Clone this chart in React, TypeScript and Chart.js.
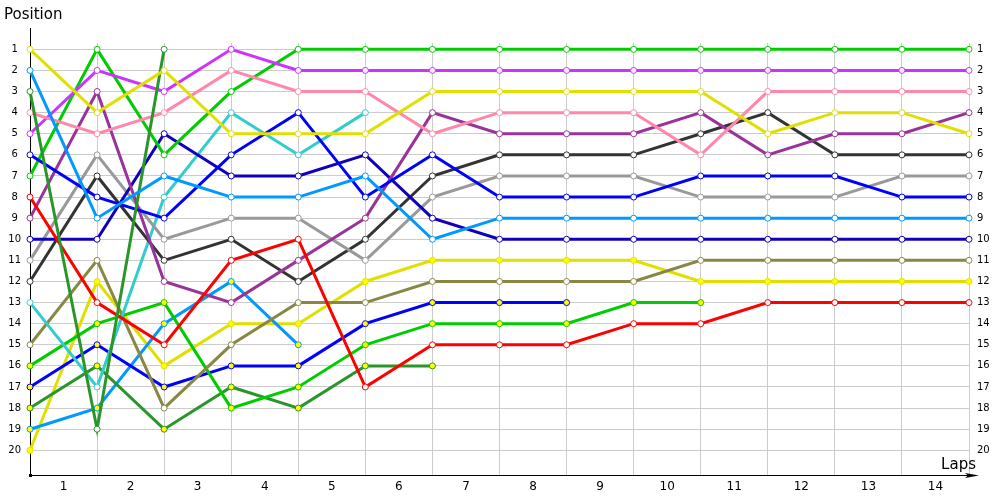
import React, { useEffect, useRef } from "react";
import { Chart, registerables } from "chart.js";
Chart.register(...registerables);

const laps = [0, 1, 2, 3, 4, 5, 6, 7, 8, 9, 10, 11, 12, 13, 14];
const lapLabels = ["1", "2", "3", "4", "5", "6", "7", "8", "9", "10", "11", "12", "13", "14"];
const positionTicks = [1, 2, 3, 4, 5, 6, 7, 8, 9, 10, 11, 12, 13, 14, 15, 16, 17, 18, 19, 20];

const p01 = [1, 4, 2, 5, 5, 5, 3, 3, 3, 3, 3, 5, 4, 4, 5];
const p02 = [2, 9, 7, 8, 8, 7, 10, 9, 9, 9, 9, 9, 9, 9, 9];
const p03 = [3, 19, 1];
const p04 = [4, 5, 4, 2, 3, 3, 5, 4, 4, 4, 6, 3, 3, 3, 3];
const p05 = [5, 2, 3, 1, 2, 2, 2, 2, 2, 2, 2, 2, 2, 2, 2];
const p06 = [6, 8, 9, 6, 4, 8, 6, 8, 8, 8, 7, 7, 7, 8, 8];
const p07 = [7, 1, 6, 3, 1, 1, 1, 1, 1, 1, 1, 1, 1, 1, 1];
const p08 = [8, 13, 15, 11, 10, 17, 15, 15, 15, 14, 14, 13, 13, 13, 13];
const p09 = [9, 3, 12, 13, 11, 9, 4, 5, 5, 5, 4, 6, 5, 5, 4];
const p10 = [10, 10, 5, 7, 7, 6, 9, 10, 10, 10, 10, 10, 10, 10, 10];
const p11 = [11, 6, 10, 9, 9, 11, 8, 7, 7, 7, 8, 8, 8, 7, 7];
const p12 = [12, 7, 11, 10, 12, 10, 7, 6, 6, 6, 5, 4, 6, 6, 6];
const p13 = [13, 17, 8, 4, 6, 4];
const p14 = [15, 11, 18, 15, 13, 13, 12, 12, 12, 12, 11, 11, 11, 11, 11];
const p15 = [16, 14, 13, 18, 17, 15, 14, 14, 14, 13, 13];
const p16 = [17, 15, 17, 16, 16, 14, 13, 13, 13];
const p17 = [18, 16, 19, 17, 18, 16, 16];
const p18 = [19, 18, 14, 12, 15];
const p19 = [20, 12, 16, 14, 14, 12, 11, 11, 11, 11, 12, 12, 12, 12, 12];

const seriesPositions = [p01, p02, p03, p04, p05, p06, p07, p08, p09, p10, p11, p12, p13, p14, p15, p16, p17, p18, p19];
const seriesColors = [
  "#e0e000", "#0099ff", "#2a962a", "#ff88aa", "#cc33ff", "#0000ff", "#00cc00", "#ff0000", "#993399", "#1100bb",
  "#999999", "#333333", "#33cccc", "#888844", "#00cc00", "#0000ff", "#2a962a", "#0099ff", "#e0e000",
];
const seriesFills = [
  "#ffffff", "#ffffff", "#ffffff", "#ffffff", "#ffffff", "#ffffff", "#ffffff", "#ffffff", "#ffffff", "#ffffff",
  "#ffffff", "#ffffff", "#ffffff", "#ffffff", "#ffff00", "#ffff00", "#ffff00", "#ffff00", "#ffff00",
];

const FONT = "'DejaVu Sans', sans-serif";

export default function App() {
  const ref = useRef<HTMLCanvasElement>(null);
  useEffect(() => {
    document.body.style.margin = "0";
    const canvas = ref.current!;
    const decor = {
      id: "decor",
      afterDraw(chart: any) {
        const c = chart.ctx;
        const a = chart.chartArea;
        c.save();
        c.strokeStyle = "#000";
        c.fillStyle = "#000";
        c.lineWidth = 1;
        c.beginPath();
        c.moveTo(Math.round(a.left) + 0.5, a.top);
        c.lineTo(Math.round(a.left) + 0.5, 28);
        c.stroke();
        const yb = Math.round(a.bottom) + 0.5;
        c.beginPath();
        c.moveTo(a.right, yb);
        c.lineTo(975, yb);
        c.stroke();
        c.beginPath();
        c.moveTo(979, yb);
        c.lineTo(965, yb - 2.5);
        c.lineTo(968, yb);
        c.lineTo(965, yb + 2.5);
        c.closePath();
        c.fill();
        c.fillRect(Math.round(a.left) - 1, Math.round(a.bottom) - 1, 3, 3);
        c.font = "15px " + FONT;
        c.textBaseline = "middle";
        c.textAlign = "left";
        c.fillText("Position", 4, 15);
        c.textAlign = "right";
        c.fillText("Laps", 976, 465);
        c.restore();
      },
    };
    const chart = new Chart(canvas, {
      type: "line",
      data: {
        datasets: seriesPositions.map((arr, k) => ({
          data: arr.map((p, i) => ({ x: laps[i], y: p })),
          borderColor: seriesColors[k],
          backgroundColor: seriesFills[k],
          pointBackgroundColor: seriesFills[k],
          pointBorderColor: seriesColors[k],
          borderWidth: 3,
          pointRadius: 3,
          pointBorderWidth: 1,
          tension: 0,
          clip: false as any,
          xAxisID: "x",
          yAxisID: "y",
        })),
      },
      options: {
        responsive: false,
        animation: false,
        devicePixelRatio: 1,
        layout: { padding: { top: 43, left: 0, right: 0, bottom: 0 } },
        plugins: { legend: { display: false }, tooltip: { enabled: false }, title: { display: false } },
        scales: {
          x: {
            type: "linear",
            position: "bottom",
            min: 0,
            max: 14,
            afterBuildTicks: (s: any) => {
              s.ticks = lapLabels.map((_, i) => ({ value: i + 0.5 }));
            },
            ticks: {
              autoSkip: false,
              maxRotation: 0,
              padding: 5,
              color: "#000",
              font: { family: FONT, size: 12 },
              callback: (_v: any, i: number) => lapLabels[i],
            },
            grid: { display: false, drawTicks: false },
            border: { display: true, color: "#000", width: 1 },
            afterFit: (s: any) => {
              s.height = 25;
            },
          },
          xg: {
            type: "linear",
            position: "top",
            min: 0,
            max: 14,
            afterBuildTicks: (s: any) => {
              s.ticks = laps.map((v) => ({ value: v }));
            },
            ticks: { display: false },
            grid: {
              color: (ctx: any) => (ctx.tick && ctx.tick.value === 0 ? "rgba(0,0,0,0)" : "#cccccc"),
              drawTicks: false,
            },
            border: { display: false },
            afterFit: (s: any) => {
              s.height = 0;
            },
          },
          y: {
            type: "linear",
            position: "left",
            reverse: true,
            min: 0.7,
            max: 21.17,
            afterBuildTicks: (s: any) => {
              s.ticks = positionTicks.map((v) => ({ value: v }));
            },
            ticks: {
              crossAlign: "center",
              padding: 9,
              color: "#000",
              font: { family: FONT, size: 10 },
              callback: (v: any) => String(v),
            },
            grid: { color: "#cccccc", drawTicks: false },
            border: { display: true, color: "#000", width: 1 },
            afterFit: (s: any) => {
              s.width = 30;
            },
          },
          y2: {
            type: "linear",
            position: "right",
            reverse: true,
            min: 0.7,
            max: 21.17,
            afterBuildTicks: (s: any) => {
              s.ticks = positionTicks.map((v) => ({ value: v }));
            },
            ticks: {
              crossAlign: "near",
              padding: 8,
              color: "#000",
              font: { family: FONT, size: 10 },
              callback: (v: any) => String(v),
            },
            grid: { display: false, drawTicks: false },
            border: { display: false },
            afterFit: (s: any) => {
              s.width = 31;
            },
          },
        },
      } as any,
      plugins: [decor],
    });
    return () => chart.destroy();
  }, []);
  return (
    <div style={{ width: 1000, height: 500 }}>
      <canvas ref={ref} width={1000} height={500} style={{ display: "block", width: 1000, height: 500 }} />
    </div>
  );
}
